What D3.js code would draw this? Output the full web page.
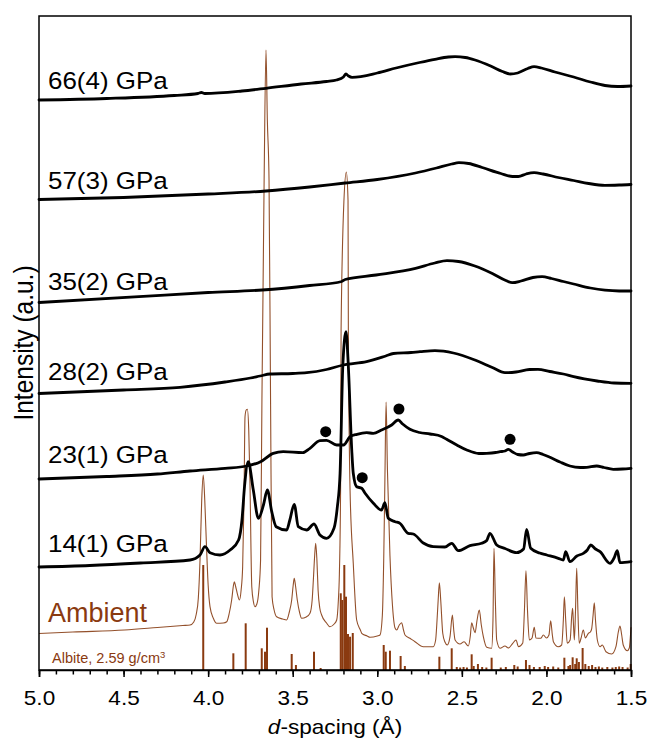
<!DOCTYPE html>
<html><head><meta charset="utf-8">
<script src="https://cdn.jsdelivr.net/npm/d3@7"></script>
<style>
body{margin:0;background:#fff}
svg{display:block}
text{font-family:"Liberation Sans",Arial,sans-serif}
</style>
</head><body>
<svg id="c" width="649" height="741"></svg>
<script>
// ---------- data (d-spacing in Å, intensity in a.u.) ----------
const pressureLabels = ["66(4) GPa","57(3) GPa","35(2) GPa","28(2) GPa","23(1) GPa","14(1) GPa"];
const ambientLabel = "Ambient";
const refLabel = "Albite, 2.59 g/cm";
const xTickValues = [5.0,4.5,4.0,3.5,3.0,2.5,2.0,1.5];

const p66 = [[5.00,570],[4.60,571.5],[4.20,574.5],[4.06,576.5],[4.04,577.5],[4.02,576.5],[3.80,579],[3.658,581.7],[3.45,586],[3.30,588.5],[3.241,590],[3.20,593],[3.185,596],[3.17,594],[3.149,592.7],[3.00,597],[2.889,602],[2.75,607.5],[2.659,610.7],[2.58,613],[2.54,613.3],[2.48,612.5],[2.422,610],[2.33,604],[2.26,598.5],[2.215,596],[2.17,597],[2.11,601.5],[2.073,603.3],[2.03,602],[1.95,598],[1.839,593],[1.74,588],[1.654,584.5],[1.58,583.5],[1.50,584]];

const p57 = [[5.00,470.5],[4.50,472.5],[4.00,476],[3.658,479],[3.40,483],[3.19,487],[3.00,490.5],[2.774,497],[2.65,502],[2.56,506],[2.517,507.3],[2.46,506.5],[2.38,502.5],[2.27,496.5],[2.20,493.5],[2.166,493.5],[2.12,496],[2.073,497.3],[2.02,496],[1.93,492.5],[1.839,489.5],[1.75,486.5],[1.654,484.7],[1.57,485],[1.50,485.5]];

const p35 = [[5.00,367.5],[4.409,373.3],[4.00,377.5],[3.68,380],[3.40,384.5],[3.21,388.5],[3.19,390.5],[3.007,395],[2.774,401.7],[2.66,407],[2.588,409.3],[2.52,408.5],[2.423,404],[2.32,396.5],[2.24,389.5],[2.202,387.3],[2.15,389],[2.08,392.5],[2.026,393.3],[1.97,391.5],[1.90,388.5],[1.839,386],[1.74,382],[1.654,379.8],[1.57,379],[1.50,379]];

const p28 = [[5.00,276.5],[4.50,280],[4.166,282.7],[3.90,288],[3.75,292],[3.693,294],[3.634,296],[3.50,296.5],[3.417,297.3],[3.30,300.5],[3.201,305],[3.063,308.3],[2.95,314],[2.905,316.5],[2.80,317.5],[2.747,318.3],[2.659,319.3],[2.55,317],[2.423,310],[2.32,302.5],[2.245,297.3],[2.18,298],[2.10,300.5],[2.05,300.7],[1.98,298.5],[1.90,296],[1.839,293.3],[1.70,289],[1.60,287],[1.50,286.7]];

const p23 = [[5.00,191],[4.60,193.5],[4.30,196],[4.107,199],[3.90,201.7],[3.772,204],[3.69,208.3],[3.615,216.7],[3.556,218.3],[3.44,217.3],[3.398,221.7],[3.339,229.3],[3.30,229.7],[3.24,225],[3.20,225],[3.161,233.3],[3.12,235.7],[3.063,237.3],[3.024,236.7],[2.975,240],[2.915,245],[2.876,250],[2.85,246],[2.807,240.7],[2.75,237.5],[2.688,236],[2.62,233.5],[2.590,230.7],[2.53,225],[2.471,220],[2.40,216.5],[2.353,216.7],[2.30,217.5],[2.274,218.3],[2.245,219],[2.225,220.7],[2.20,218],[2.17,215.5],[2.137,215],[2.10,216.5],[2.058,217.3],[2.02,215.5],[1.979,212.7],[1.92,208],[1.861,204],[1.80,202.5],[1.762,202.7],[1.703,204],[1.66,202.5],[1.605,200.7],[1.55,201],[1.50,201.7]];

const p14 = [[5.00,103],[4.70,104.5],[4.40,107],[4.107,110],[4.048,115],[4.019,123.3],[3.989,117.3],[3.93,115],[3.87,120],[3.82,130],[3.80,150],[3.785,183.3],[3.763,208.3],[3.733,180],[3.703,151.7],[3.673,165],[3.65,180],[3.624,158.3],[3.598,143.3],[3.536,140],[3.517,150],[3.491,165.7],[3.467,143.3],[3.417,140],[3.374,146],[3.339,135],[3.30,131.7],[3.256,141.7],[3.236,163.3],[3.220,196.7],[3.204,303.3],[3.185,338.3],[3.171,303.3],[3.151,220],[3.142,196.7],[3.122,183.3],[3.092,181.7],[3.072,176.7],[3.023,166.7],[2.975,160],[2.955,167.3],[2.935,151.7],[2.895,148.3],[2.866,146.7],[2.817,136.7],[2.787,136],[2.728,127],[2.669,123.3],[2.60,123],[2.560,126.7],[2.521,119.3],[2.452,124.3],[2.383,126.7],[2.353,129.5],[2.334,136.7],[2.294,125],[2.245,121.5],[2.176,117.3],[2.135,121],[2.117,140.7],[2.093,121.7],[2.04,117],[1.998,115],[1.93,111.7],[1.900,110],[1.886,118.3],[1.861,108.3],[1.82,114],[1.782,116.7],[1.758,120],[1.738,125],[1.71,121],[1.683,118.3],[1.624,106.7],[1.60,112],[1.581,119.3],[1.565,107.3],[1.50,108.3]];

const ambient = [[5.000,36.5],[4.800,38],[4.494,40],[4.300,42.5],[4.150,44.5],[4.107,45],[4.085,48],[4.070,56],[4.058,72],[4.048,110],[4.038,170],[4.029,195],[4.020,170],[4.010,125],[4.000,85],[3.989,63.3],[3.970,52],[3.949,46.7],[3.910,47],[3.890,48.3],[3.875,57],[3.861,70],[3.850,85],[3.845,88.3],[3.838,84],[3.828,76.7],[3.815,70],[3.805,80],[3.796,103.3],[3.788,170],[3.782,253.3],[3.775,260],[3.768,260.7],[3.760,240],[3.753,190],[3.742,83.3],[3.732,68],[3.723,63.3],[3.712,66],[3.700,80],[3.690,110],[3.682,270],[3.669,490],[3.658,620],[3.650,550],[3.640,490],[3.631,270],[3.622,73.3],[3.610,60],[3.595,53.3],[3.560,51],[3.536,50],[3.520,58],[3.506,70],[3.497,85],[3.491,91.7],[3.484,85],[3.473,70],[3.460,58],[3.447,51.7],[3.420,53],[3.398,56.7],[3.385,70],[3.378,90],[3.370,115],[3.364,126.7],[3.357,110],[3.350,80],[3.340,62],[3.329,55],[3.300,47],[3.280,43.3],[3.255,46],[3.240,50],[3.230,70],[3.225,90],[3.217,180],[3.214,340],[3.197,470],[3.183,498],[3.173,470],[3.171,340],[3.161,180],[3.142,106.7],[3.122,50],[3.100,40],[3.092,36.7],[3.060,34],[3.043,32.7],[3.000,34],[2.984,35],[2.970,55],[2.962,110],[2.955,190],[2.948,268],[2.940,200],[2.925,114],[2.910,64],[2.895,42],[2.885,40],[2.870,45],[2.856,47.3],[2.845,40],[2.836,35],[2.807,31.7],[2.777,28.3],[2.728,23.3],[2.669,23.3],[2.655,30],[2.649,43.3],[2.640,70],[2.633,87.3],[2.625,70],[2.613,36.7],[2.600,28],[2.586,25],[2.570,33.3],[2.556,55],[2.548,40],[2.540,30],[2.511,26],[2.487,28.3],[2.462,24],[2.450,34],[2.442,47.3],[2.432,42],[2.422,37.3],[2.410,50],[2.397,60],[2.385,45],[2.373,33.3],[2.353,22.7],[2.324,21.7],[2.316,50],[2.310,121.7],[2.302,70],[2.294,30],[2.274,21.7],[2.245,24],[2.225,22],[2.199,26.7],[2.180,30],[2.165,23.3],[2.140,27],[2.130,60],[2.121,99.3],[2.112,60],[2.101,30],[2.085,32],[2.072,42.7],[2.062,32],[2.034,31.7],[2.018,35],[2.000,32],[1.985,35],[1.975,49.3],[1.965,35],[1.959,28.3],[1.930,23.3],[1.910,25],[1.900,50],[1.894,73.3],[1.886,50],[1.877,26.7],[1.860,30],[1.850,55],[1.845,61.7],[1.840,45],[1.835,30],[1.828,60],[1.821,101.7],[1.814,60],[1.806,26.7],[1.795,32],[1.782,40],[1.770,32],[1.752,36.7],[1.740,38],[1.732,41.7],[1.724,55],[1.717,67.3],[1.710,50],[1.699,30],[1.683,23.3],[1.670,25],[1.648,18.3],[1.614,16],[1.589,23.3],[1.575,38],[1.565,44],[1.555,35],[1.546,25],[1.522,19.3],[1.510,22],[1.503,35],[1.500,42.7]];

// Albite reference pattern (d, relative intensity)
const sticks = [[4.029,105],[3.851,16.7],[3.778,46.7],[3.683,21.7],[3.664,18.3],[3.652,42.3],[3.506,16],[3.481,5],[3.374,18.3],[3.335,2],[3.216,76.7],[3.207,70],[3.195,105],[3.185,73.3],[3.173,36],[3.161,33.3],[3.145,37],[2.962,25],[2.950,18.3],[2.925,19.3],[2.862,14],[2.837,4],[2.633,13.3],[2.560,21.7],[2.530,3],[2.510,2.5],[2.490,3],[2.470,2.5],[2.442,15.7],[2.430,4],[2.405,6],[2.380,3],[2.355,2.5],[2.324,12.3],[2.270,2.5],[2.240,3],[2.190,5],[2.170,3.5],[2.121,10],[2.100,5],[2.074,3],[2.040,3],[2.010,4],[1.990,3],[1.960,3.5],[1.930,2.5],[1.894,12.3],[1.870,4],[1.860,5],[1.845,12.7],[1.830,6],[1.821,11.7],[1.808,8],[1.786,22],[1.770,6],[1.750,4],[1.730,5],[1.710,3],[1.690,3.5],[1.670,2.5],[1.640,3],[1.610,2.5],[1.590,3],[1.570,3.5],[1.550,3],[1.520,2.5],[1.502,6]];

// new-phase markers on the 23(1) GPa pattern
const markers = [[3.305,238.3],[2.872,261],[3.089,192.3],[2.215,230.7]];

// ---------- layout ----------
const svg = d3.select("#c");
const L = 39, R = 631, T = 16, B = 670;
const x = d3.scaleLinear().domain([5.0, 1.5]).range([L, R]);
const y = d3.scaleLinear().domain([0, 654]).range([B, T]);
const brown = "#8a3a10";
const ambientColor = "#93502b";

const line = d3.line().x(d => x(d[0])).y(d => y(d[1])).curve(d3.curveMonotoneX);

// reference sticks
svg.append("g").selectAll("line").data(sticks).join("line")
  .attr("x1", d => x(d[0])).attr("x2", d => x(d[0]))
  .attr("y1", y(0)).attr("y2", d => y(d[1]))
  .attr("stroke", brown).attr("stroke-width", 2);

// ambient pattern
svg.append("path").datum(ambient).attr("d", line)
  .attr("fill", "none").attr("stroke", ambientColor).attr("stroke-width", 1.1)
  .attr("stroke-linejoin", "round");

// high-pressure patterns
const series = [p66, p57, p35, p28, p23, p14];
svg.append("g").selectAll("path").data(series).join("path")
  .attr("d", line).attr("fill", "none").attr("stroke", "#000")
  .attr("stroke-width", 2.8).attr("stroke-linejoin", "round").attr("stroke-linecap", "round");

// markers
svg.append("g").selectAll("circle").data(markers).join("circle")
  .attr("cx", d => x(d[0])).attr("cy", d => y(d[1])).attr("r", 5.5).attr("fill", "#000");

// frame
svg.append("rect").attr("x", L).attr("y", T).attr("width", R - L).attr("height", B - T)
  .attr("fill", "none").attr("stroke", "#000").attr("stroke-width", 1.5);

// x axis: minor ticks
const minor = d3.range(50, 14, -1).map(v => v / 10);
svg.append("g").attr("transform", `translate(0,${B})`)
  .call(d3.axisBottom(x).tickValues(minor).tickSize(4.5).tickFormat(""))
  .call(g => g.select(".domain").remove())
  .call(g => g.selectAll("line").attr("stroke-width", 1.5));
// major ticks + labels
const ax = svg.append("g").attr("transform", `translate(0,${B})`)
  .call(d3.axisBottom(x).tickValues(xTickValues).tickSize(7).tickPadding(14).tickFormat(d3.format(".1f")));
ax.select(".domain").attr("stroke-width", 1.5);
ax.selectAll("line").attr("stroke-width", 1.5);
ax.selectAll("text").attr("font-size", 20).attr("fill", "#000")
  .attr("font-family", '"Liberation Sans",Arial,sans-serif')
  .attr("transform", "scale(1.13,1)");

// x title
const xt = svg.append("text").attr("transform", `translate(${(L + R) / 2},733.5) scale(1.13,1)`)
  .attr("text-anchor", "middle").attr("font-size", 20);
xt.append("tspan").attr("font-style", "italic").text("d");
xt.append("tspan").text("-spacing (Å)");

// y title
svg.append("text").attr("transform", "translate(32.5,343) scale(1.13,1) rotate(-90)")
  .attr("text-anchor", "middle").attr("font-size", 24.5).text("Intensity (a.u.)");

// pressure labels
const labelBaselines = [89.3, 189.3, 290, 380, 462.7, 551.7];
pressureLabels.forEach((t, i) => {
  svg.append("text").attr("transform", `translate(48,${labelBaselines[i]}) scale(1.06,1)`)
    .attr("font-size", 24.5).attr("fill", "#000").text(t);
});
svg.append("text").attr("x", 48).attr("y", 622.3).attr("font-size", 27)
  .attr("fill", brown).text(ambientLabel);
const rl = svg.append("text").attr("x", 52).attr("y", 663.3).attr("font-size", 14.5).attr("fill", brown);
rl.append("tspan").text(refLabel);
rl.append("tspan").attr("font-size", 9.5).attr("dy", -5).text("3");
</script>
</body></html>
